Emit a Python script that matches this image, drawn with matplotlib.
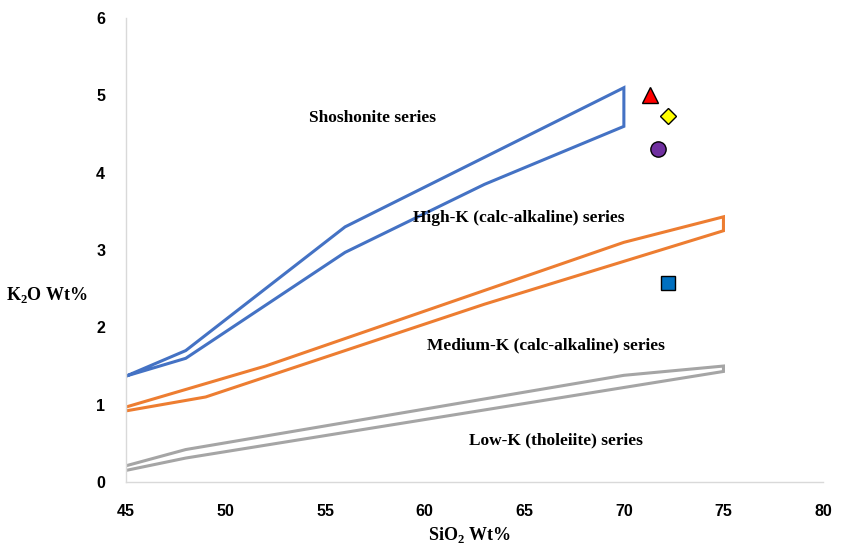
import matplotlib
matplotlib.use("Agg")
import matplotlib.pyplot as plt

plt.rcParams["mathtext.fontset"] = "custom"
plt.rcParams["mathtext.rm"] = "Liberation Serif"
plt.rcParams["mathtext.bf"] = "Liberation Serif:bold"

# series boundary polygons (SiO2, K2O)
shosh_x = [45, 48, 56, 70, 70, 63, 56, 48, 45]
shosh_y = [1.37, 1.70, 3.30, 5.10, 4.60, 3.85, 2.97, 1.60, 1.37]

highk_x = [45, 52, 70, 75, 75, 63, 49, 45]
highk_y = [0.97, 1.50, 3.10, 3.43, 3.25, 2.30, 1.10, 0.92]

medk_x = [45, 48, 70, 75, 75, 48, 45]
medk_y = [0.21, 0.42, 1.38, 1.50, 1.43, 0.31, 0.15]

# samples
samples = [
    (71.3, 5.00, "^", "#FF0000", 11),
    (72.2, 4.73, "D", "#FFFF00", 8.5),
    (71.7, 4.31, "o", "#7030A0", 11),
    (72.2, 2.57, "s", "#0070C0", 10.5),
]

labels = [
    (57.4, 4.71, "Shoshonite series"),
    (64.7, 3.41, "High-K (calc-alkaline) series"),
    (66.1, 1.77, "Medium-K (calc-alkaline) series"),
    (66.6, 0.54, "Low-K (tholeiite) series"),
]

fig = plt.figure(figsize=(8.45, 5.49), dpi=100)
ax = fig.add_axes([0.1491, 0.122, 0.8249, 0.845])

ax.plot(shosh_x, shosh_y, color="#4472C4", lw=2.2, solid_joinstyle="miter")
ax.plot(highk_x, highk_y, color="#ED7D31", lw=2.2, solid_joinstyle="miter")
ax.plot(medk_x, medk_y, color="#A5A5A5", lw=2.2, solid_joinstyle="miter")

for x, y, m, c, s in samples:
    ax.plot(x, y, marker=m, color=c, markersize=s, markeredgecolor="black",
            markeredgewidth=1.0, linestyle="none")

for x, y, t in labels:
    ax.text(x, y, t, ha="center", va="center", family="Liberation Serif",
            fontweight="bold", fontsize=12.5)

ax.set_xlim(45, 80)
ax.set_ylim(0, 6)
ax.set_xticks(range(45, 81, 5))
ax.set_yticks(range(0, 7))
ax.tick_params(length=0, labelsize=11.5)
for lab in ax.get_xticklabels() + ax.get_yticklabels():
    lab.set_fontweight("bold")
    lab.set_family("Liberation Sans")
ax.tick_params(axis="x", pad=16)
ax.tick_params(axis="y", pad=15)

for side in ["top", "right"]:
    ax.spines[side].set_visible(False)
for side in ["left", "bottom"]:
    ax.spines[side].set_color("#D9D9D9")
    ax.spines[side].set_linewidth(1.0)

fig.text(469 / 845, 1 - 535 / 549, "SiO$_\\mathbf{2}$ Wt%", ha="center", va="center",
         family="Liberation Serif", fontweight="bold", fontsize=13)
fig.text(47 / 845, 1 - 295 / 549, "K$_\\mathbf{2}$O Wt%", ha="center", va="center",
         family="Liberation Serif", fontweight="bold", fontsize=13)

fig.savefig("out.png", dpi=100)
